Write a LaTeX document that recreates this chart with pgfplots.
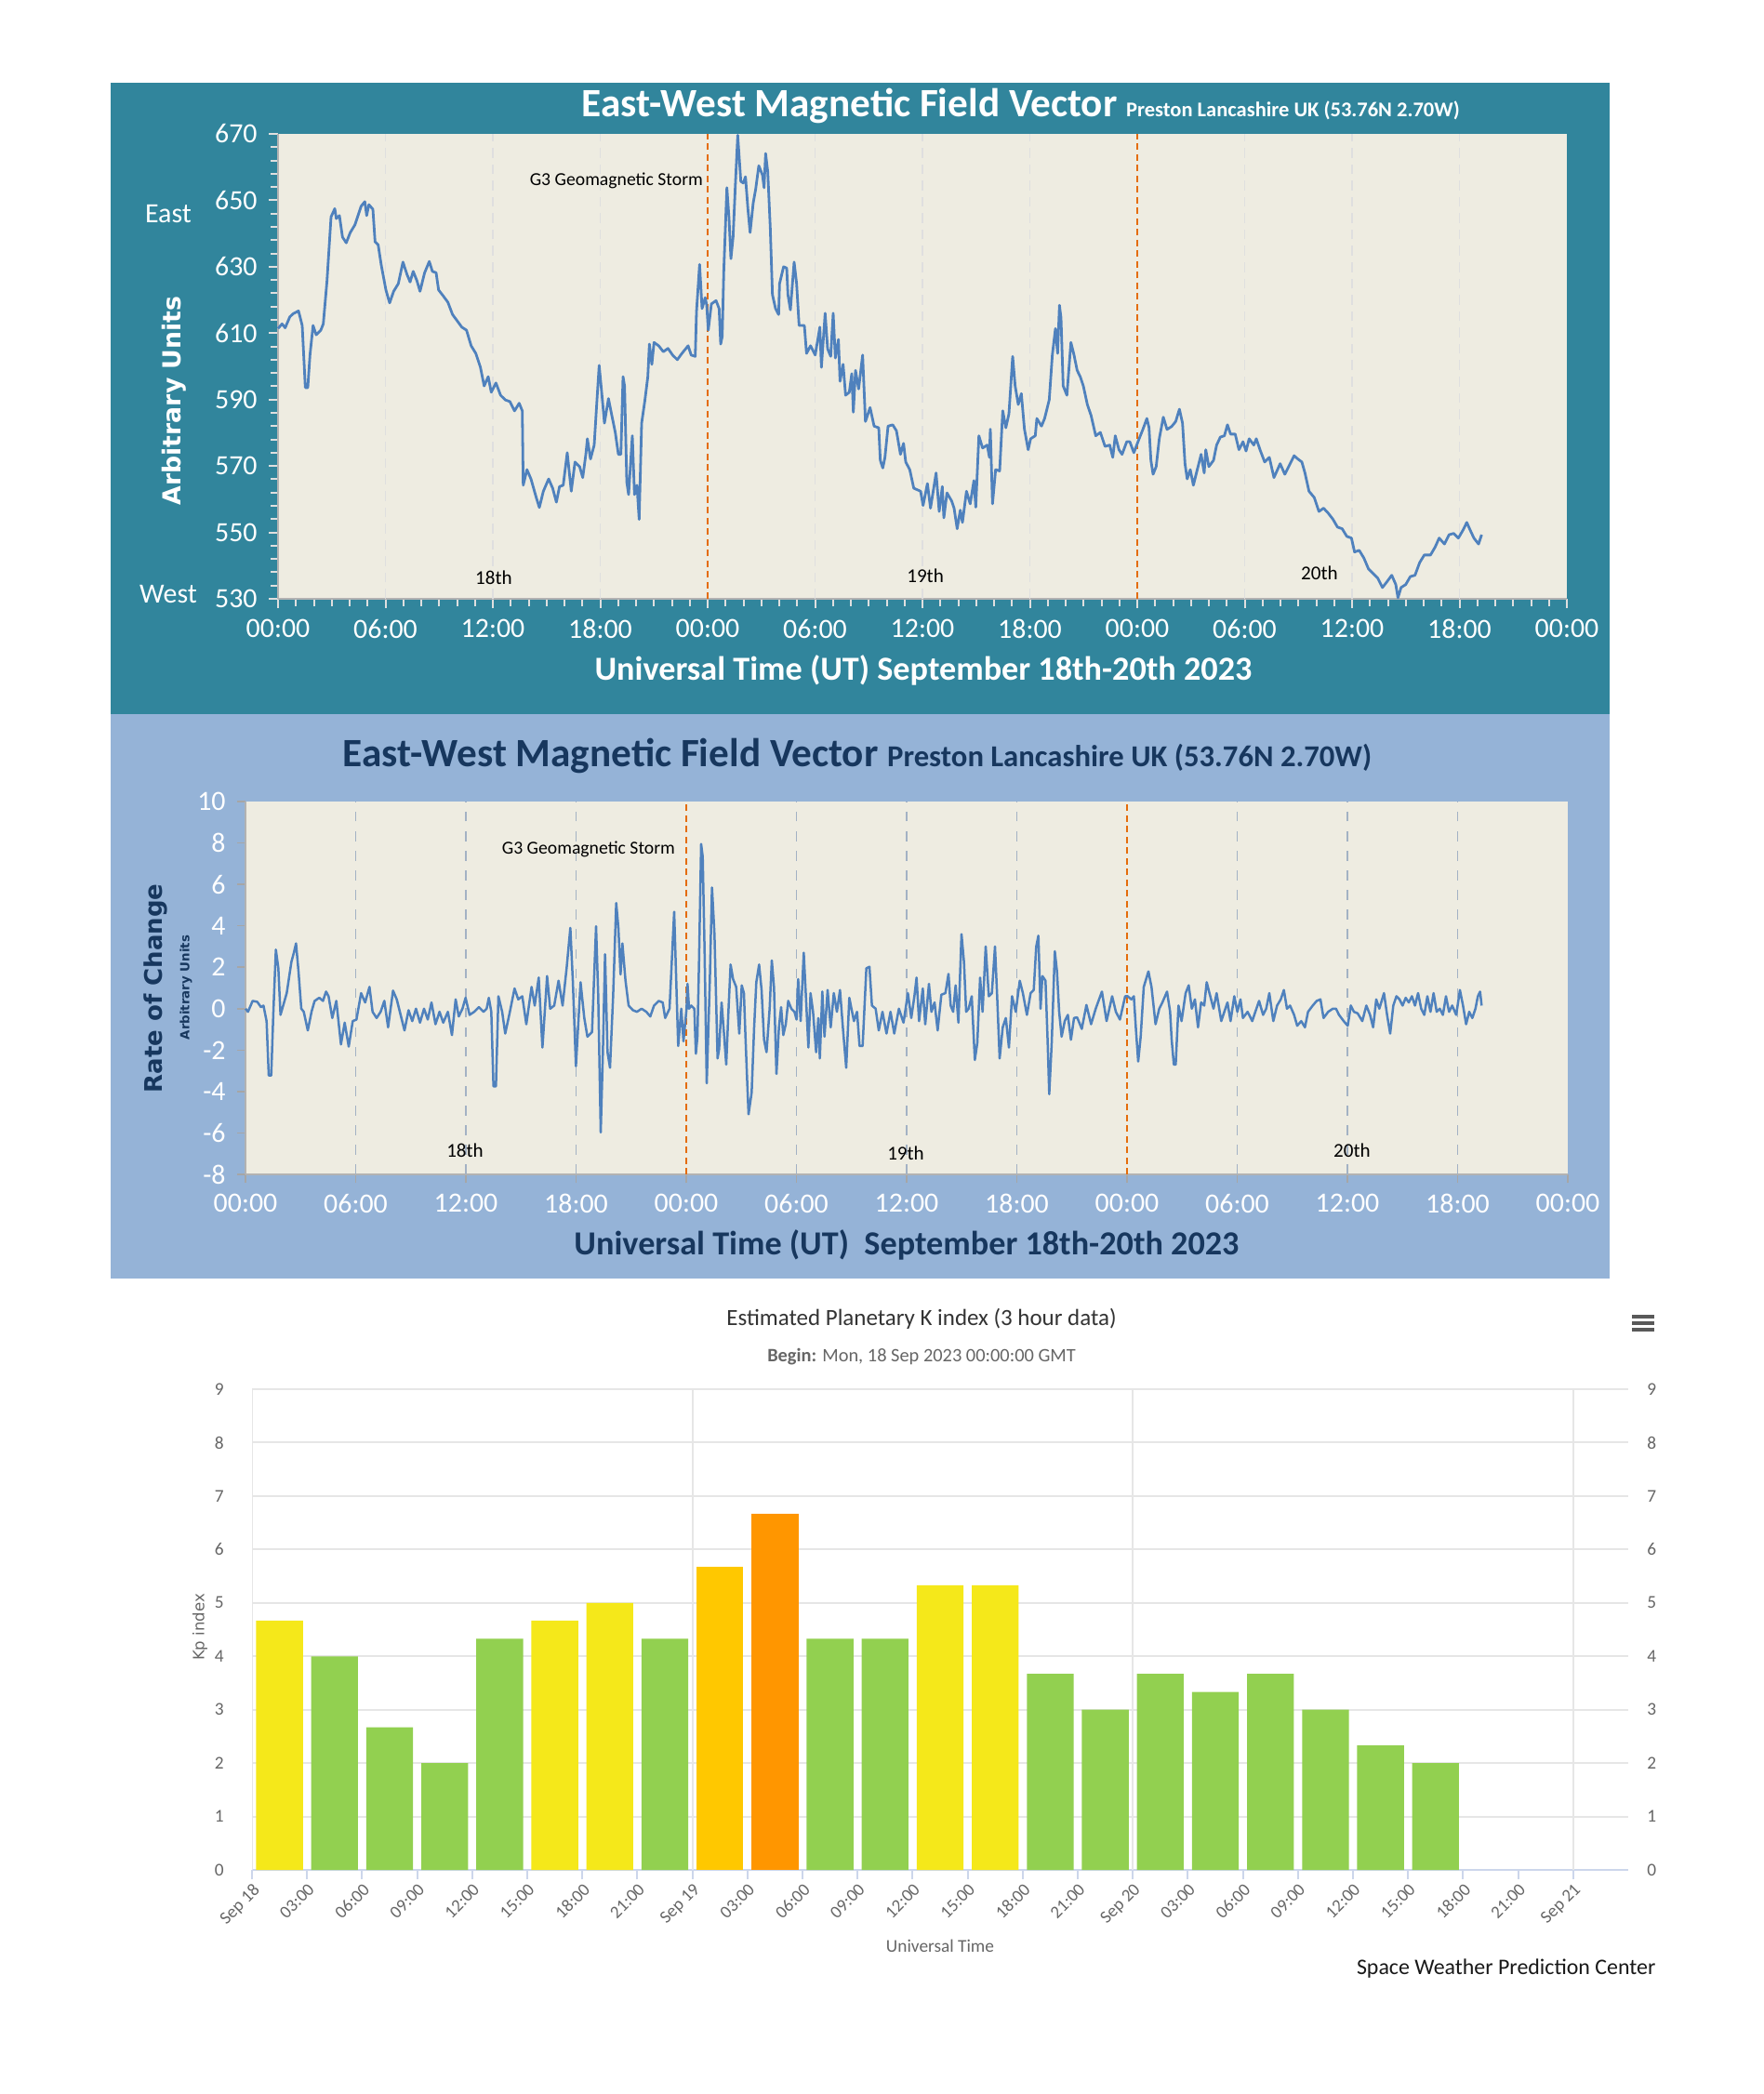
\documentclass[border=0pt]{standalone}
\usepackage{pgfplots}
\pgfplotsset{compat=1.18}
\usepackage{fontspec}
\setmainfont{Carlito}
\newfontfamily\dejavu{DejaVu Sans}
\definecolor{tealbg}{HTML}{31859C}
\definecolor{bluebg}{HTML}{95B3D7}
\definecolor{plotbg}{HTML}{EEECE1}
\definecolor{linec}{HTML}{4F81BD}
\definecolor{navy}{HTML}{17375E}
\definecolor{stormc}{HTML}{E46C0A}
\definecolor{kpyellow}{HTML}{F5E81A}
\definecolor{kpgreen}{HTML}{92D050}
\definecolor{kpamber}{HTML}{FFC800}
\definecolor{kporange}{HTML}{FF9600}
\definecolor{hcgrid}{HTML}{E6E6E6}
\definecolor{hcaxis}{HTML}{CCD6EB}
\definecolor{hctext}{HTML}{666666}
\definecolor{grid2}{HTML}{A3B2C4}
\begin{document}
\begin{tikzpicture}
\fill[white] (0,0) rectangle (189.6mm,-225.2mm);
\fill[tealbg] (11.9mm,-8.9mm) rectangle (173.1mm,-76.8mm);
\fill[bluebg] (11.9mm,-76.8mm) rectangle (173.1mm,-137.5mm);

% ---------------- Panel 1 ----------------
\begin{axis}[
  at={(29.9mm,-64.4mm)}, anchor=south west,
  width=138.6mm, height=50mm, scale only axis,
  xmin=0, xmax=72, ymin=530, ymax=670,
  axis background/.style={fill=plotbg},
  axis x line*=bottom, axis y line*=left,
  axis line style={draw=gray!60, -},
  xtick={0,6,...,72},
  xticklabels={00:00,06:00,12:00,18:00,00:00,06:00,12:00,18:00,00:00,06:00,12:00,18:00,00:00},
  minor xtick={0,1,...,72},
  ytick={530,550,...,670},
  minor ytick={530,534,...,670},
  tick align=outside,
  major tick length=1.0mm, minor tick length=0.8mm,
  every tick/.style={draw=white!75!gray, line width=0.2mm},
  tick label style={white, font=\fontsize{8.5}{10}\selectfont},
  /pgf/number format/assume math mode=true,
  unbounded coords=jump,
  clip=false,
]
\addplot[draw=gray!25, densely dashed, line width=0.15mm] coordinates {(6,530) (6,670) (6,nan) (12,530) (12,670) (12,nan) (18,530) (18,670) (18,nan) (30,530) (30,670) (30,nan) (36,530) (36,670) (36,nan) (42,530) (42,670) (42,nan) (54,530) (54,670) (54,nan) (60,530) (60,670) (60,nan) (66,530) (66,670)};
\addplot[stormc, line width=0.15mm, dash pattern=on 0.7mm off 0.45mm] coordinates {(24,530) (24,670) (24,nan) (48,530) (48,670)};
\addplot[linec, line width=0.28mm, line join=round] table {
h v
0 611.4
0.225 612.8
0.398 611.6
0.658 614.9
0.831 615.8
1.143 616.7
1.351 612.3
1.524 593.6
1.662 593.6
1.784 603.4
1.957 612.3
2.130 609.5
2.390 610.9
2.528 612.8
2.736 625.8
2.961 645.0
3.169 647.5
3.255 644.5
3.429 645.4
3.602 638.9
3.810 637.2
4.035 640.3
4.294 642.6
4.468 645.4
4.641 648.2
4.848 649.6
4.952 645.4
5.074 648.7
5.299 647.3
5.420 637.5
5.593 636.6
5.766 630.5
6.026 623.0
6.234 619.1
6.459 622.6
6.719 624.9
6.978 631.4
7.203 627.7
7.377 625.4
7.550 628.6
7.758 625.8
7.931 622.6
8.190 628.2
8.450 631.6
8.623 628.6
8.831 628.2
8.970 623.0
9.229 621.2
9.489 619.3
9.749 615.6
10.009 613.7
10.268 611.8
10.528 610.9
10.788 606.2
11.048 603.9
11.307 599.7
11.515 594.1
11.740 596.9
11.913 592.2
12.173 595.0
12.433 591.3
12.693 589.9
12.952 589.4
13.212 586.6
13.472 588.9
13.645 586.6
13.697 564.2
13.905 568.9
14.130 566.1
14.424 560.5
14.597 557.5
14.823 562.4
15.117 566.1
15.342 563.3
15.550 559.1
15.723 563.8
15.931 564.2
16.156 574.0
16.381 562.4
16.589 571.2
16.848 569.8
17.022 566.5
17.195 573.5
17.281 578.2
17.455 572.1
17.662 576.3
17.801 588.5
17.939 600.3
18.113 590.3
18.234 582.9
18.459 590.3
18.667 584.7
18.840 580.1
19.013 573.5
19.152 573.5
19.273 596.9
19.359 594.1
19.481 565.2
19.584 561.4
19.792 579.1
19.913 561.4
20.052 564.2
20.173 553.9
20.312 582.9
20.485 589.4
20.658 596.9
20.745 606.7
20.883 600.6
21.004 607.2
21.264 606.2
21.524 604.4
21.784 605.4
22.043 603.4
22.303 602.0
22.563 603.9
22.909 606.2
23.082 603.4
23.307 603.0
23.377 616.5
23.550 630.7
23.688 617.4
23.861 620.7
23.948 618.4
24.035 610.9
24.208 618.8
24.468 619.8
24.641 617.4
24.727 606.7
24.814 609.0
24.900 628.6
25.074 653.8
25.195 644.5
25.299 632.4
25.420 638.9
25.541 653.8
25.680 669.6
25.853 655.7
25.991 655.2
26.113 657.1
26.251 647.3
26.372 640.3
26.545 649.2
26.684 653.4
26.857 660.4
27.065 657.6
27.152 653.8
27.238 664.1
27.359 658.5
27.498 641.7
27.619 621.6
27.792 617.4
27.965 615.6
28.017 624.9
28.242 630.0
28.416 629.6
28.485 621.6
28.623 617.0
28.831 631.4
28.970 624.9
29.108 612.3
29.403 612.3
29.524 603.9
29.749 606.2
30.009 603.4
30.268 611.8
30.355 599.7
30.563 616.0
30.701 605.3
30.874 603.0
31.013 616.0
31.134 602.5
31.307 608.1
31.394 595.5
31.567 600.6
31.706 591.3
31.913 592.2
32.052 597.8
32.139 586.2
32.260 598.8
32.433 593.2
32.658 603.4
32.814 583.4
33.074 587.6
33.299 582.0
33.558 581.5
33.645 571.7
33.784 569.4
33.905 572.6
34.078 582.0
34.338 582.4
34.546 580.6
34.771 573.5
34.944 576.8
35.065 571.2
35.290 568.9
35.515 563.3
35.896 562.4
36.035 558.1
36.277 564.7
36.450 557.3
36.762 567.9
36.935 556.3
37.108 563.8
37.195 554.4
37.368 561.9
37.628 559.5
37.766 557.3
37.939 551.1
38.113 556.7
38.234 553.0
38.459 562.4
38.667 558.6
38.874 565.6
38.978 557.6
39.152 579.1
39.359 575.4
39.619 576.3
39.740 572.6
39.792 581.1
39.913 558.6
40.087 568.9
40.312 568.5
40.485 586.6
40.658 581.5
40.831 585.7
41.039 603.0
41.178 594.1
41.351 588.5
41.524 591.8
41.697 581.1
41.905 574.9
42.043 578.2
42.303 579.1
42.390 584.3
42.649 582.0
42.823 584.3
43.082 589.9
43.255 603.4
43.429 611.4
43.550 603.9
43.654 618.4
43.740 614.6
43.861 594.1
44.069 591.3
44.294 607.2
44.468 603.4
44.641 598.8
44.814 596.9
44.987 594.1
45.212 588.5
45.420 585.2
45.680 579.1
45.939 580.1
46.199 575.9
46.459 576.3
46.632 572.6
46.771 579.1
46.978 574.9
47.152 573.5
47.411 577.3
47.584 577.3
47.810 574.0
48.104 578.2
48.312 581.0
48.537 584.3
48.658 581.5
48.762 571.7
48.883 567.5
49.056 569.8
49.229 578.2
49.455 584.7
49.662 581.0
49.922 581.9
50.147 583.4
50.355 587.1
50.528 582.9
50.667 570.7
50.788 566.1
50.961 568.9
51.134 564.2
51.394 569.8
51.567 573.5
51.740 567.9
51.827 574.9
52.000 569.8
52.260 571.7
52.433 576.3
52.641 578.7
52.866 579.1
53.039 582.4
53.212 579.6
53.472 579.6
53.680 574.9
53.905 577.3
54.078 574.5
54.251 578.2
54.511 576.3
54.649 578.2
54.857 574.9
55.117 571.2
55.377 572.6
55.636 566.5
55.983 570.7
56.242 567.5
56.502 570.3
56.762 573.1
56.970 572.1
57.195 571.2
57.368 567.9
57.593 562.4
57.887 560.5
58.147 556.3
58.407 557.3
58.667 555.8
58.926 554.0
59.186 551.6
59.446 551.1
59.706 548.8
59.965 548.3
60.139 544.1
60.398 544.6
60.658 542.3
60.918 539.0
61.177 537.6
61.437 536.2
61.697 533.4
61.957 535.2
62.216 537.1
62.442 534.3
62.563 530.3
62.736 533.4
62.996 534.3
63.255 536.7
63.515 537.1
63.775 540.9
64.035 543.2
64.381 543.2
64.641 545.6
64.866 548.3
65.160 546.5
65.420 549.3
65.680 549.7
65.939 548.3
66.199 550.7
66.407 553.0
66.597 550.7
66.805 548.3
67.065 546.5
67.238 549.3
};
\node[anchor=east, inner sep=1pt, font=\fontsize{5.6}{6}\selectfont] at (axis cs:23.95,656) {G3 Geomagnetic Storm};
\node[font=\fontsize{6}{7}\selectfont] at (axis cs:12.05,536.4) {18th};
\node[font=\fontsize{6}{7}\selectfont] at (axis cs:36.16,537) {19th};
\node[font=\fontsize{6}{7}\selectfont] at (axis cs:58.18,537.8) {20th};
\end{axis}

\node[anchor=base west, white, inner sep=0] at (62.5mm,-12.6mm) {\fontsize{12.3}{14}\selectfont\bfseries East-West Magnetic Field Vector \fontsize{6.4}{7}\selectfont Preston Lancashire UK (53.76N 2.70W)};
\node[white, font=\fontsize{10.3}{12}\selectfont\bfseries] at (99.3mm,-72.1mm) {Universal Time (UT) September 18th-20th 2023};
\node[white, rotate=90, font=\dejavu\bfseries\fontsize{7.6}{9}\selectfont] at (18.7mm,-43.1mm) {Arbitrary Units};
\node[white, font=\fontsize{8.5}{10}\selectfont] at (18.1mm,-23.0mm) {East};
\node[white, font=\fontsize{8.5}{10}\selectfont] at (18.1mm,-63.9mm) {West};

% ---------------- Panel 2 ----------------
\begin{axis}[
  at={(26.4mm,-126.3mm)}, anchor=south west,
  width=142.2mm, height=40.1mm, scale only axis,
  xmin=0, xmax=72, ymin=-8, ymax=10,
  axis background/.style={fill=plotbg},
  axis x line*=bottom, axis y line*=left,
  axis line style={draw=gray!60, -},
  xtick={0,6,...,72},
  xticklabels={00:00,06:00,12:00,18:00,00:00,06:00,12:00,18:00,00:00,06:00,12:00,18:00,00:00},
  ytick={-8,-6,...,10},
  tick align=outside,
  major tick length=0.9mm,
  every tick/.style={draw=gray!70, line width=0.15mm},
  tick label style={white, font=\fontsize{8.5}{10}\selectfont},
  /pgf/number format/assume math mode=true,
  unbounded coords=jump,
  clip=false,
]
\addplot[draw=grid2, dashed, line width=0.15mm] coordinates {(6,-8) (6,10) (6,nan) (12,-8) (12,10) (12,nan) (18,-8) (18,10) (18,nan) (30,-8) (30,10) (30,nan) (36,-8) (36,10) (36,nan) (42,-8) (42,10) (42,nan) (54,-8) (54,10) (54,nan) (60,-8) (60,10) (60,nan) (66,-8) (66,10)};
\addplot[stormc, line width=0.15mm, dash pattern=on 0.7mm off 0.45mm] coordinates {(24,-8) (24,10) (24,nan) (48,-8) (48,10)};
\addplot[linec, line width=0.25mm, line join=round] table {
h v
0 0
0.135 -0.15
0.388 0.375
0.641 0.33
0.844 0.075
0.979 0.15
1.148 -0.6
1.266 -3.225
1.401 -3.225
1.519 -0.15
1.654 2.85
1.789 1.95
1.907 -0.3
2.076 0.225
2.245 0.75
2.498 2.25
2.633 2.7
2.751 3.15
2.886 1.8
3.038 0
3.173 -0.15
3.392 -1.05
3.595 -0.15
3.764 0.375
4.017 0.525
4.219 0.375
4.388 0.825
4.523 0.6
4.726 -0.45
4.945 0.375
5.198 -1.725
5.401 -0.675
5.620 -1.83
5.840 -0.6
6.042 -0.525
6.295 0.75
6.515 0.3
6.751 1.05
6.920 -0.15
7.139 -0.45
7.359 -0.15
7.561 0.375
7.764 -0.9
8.034 0.87
8.236 0.45
8.405 -0.15
8.658 -1.05
8.878 -0.075
9.080 -0.6
9.283 0
9.502 -0.675
9.722 0
9.924 -0.525
10.127 0.3
10.346 -0.75
10.565 -0.15
10.768 -0.675
11.021 -0.15
11.241 -1.275
11.443 0.45
11.612 -0.375
11.814 0
11.983 0.525
12.203 -0.3
12.456 -0.15
12.709 0.075
12.962 -0.15
13.131 0
13.249 0.525
13.384 -0.15
13.502 -3.75
13.637 -3.75
13.772 0.6
13.975 -0.15
14.143 -1.2
14.397 -0.15
14.650 0.975
14.852 0.45
15.072 0.6
15.291 -0.75
15.578 1.05
15.747 0.15
15.966 1.5
16.169 -1.875
16.422 1.575
16.591 0
16.810 0.15
17.046 1.35
17.266 0.15
17.485 1.95
17.688 3.9
17.823 1.35
17.992 -2.775
18.245 1.275
18.447 -0.45
18.616 -1.35
18.869 -1.125
19.089 3.975
19.207 0.6
19.342 -5.97
19.460 -2.1
19.578 2.625
19.713 -2.1
19.848 -2.85
20.017 0.6
20.186 5.1
20.304 3.9
20.422 1.65
20.523 3.15
20.692 1.35
20.861 0.15
21.097 -0.075
21.316 -0.15
21.570 0
21.823 -0.15
22.042 -0.375
22.245 0.15
22.498 0.375
22.717 0.3
22.852 -0.45
23.089 0
23.342 4.68
23.561 -1.8
23.730 0
23.848 -1.575
24.017 0
24.068 1.2
24.152 0
24.270 0.15
24.439 0
24.523 -2.175
24.608 -1.35
24.692 2.1
24.810 7.95
24.895 7.35
24.996 2.85
25.114 -3.6
25.283 1.35
25.401 5.85
25.536 3.6
25.705 -2.4
25.789 -1.95
25.924 0.3
26.042 -1.05
26.177 -2.7
26.295 -0.15
26.414 2.13
26.549 1.425
26.717 1.05
26.886 -1.2
27.021 1.125
27.139 0.75
27.224 -1.35
27.308 -3.3
27.392 -5.1
27.561 -4.05
27.696 -0.9
27.814 1.275
27.966 2.13
28.101 0.9
28.236 -1.5
28.371 -2.1
28.540 0
28.658 2.325
28.776 1.05
28.911 -3.15
29.046 -0.9
29.165 0.075
29.283 -1.275
29.418 -0.75
29.553 0.375
29.722 0
29.890 -0.15
30.008 -0.525
30.093 1.425
30.228 -0.6
30.397 2.7
30.515 0.6
30.650 -1.875
30.768 0.75
30.903 -0.15
31.072 -2.1
31.190 -0.45
31.274 -2.4
31.409 0.825
31.527 -1.35
31.696 0.9
31.865 -0.9
32.034 0.75
32.203 -0.15
32.371 0.9
32.540 -1.05
32.709 -2.85
32.878 0.525
33.131 -0.6
33.300 -0.15
33.435 -1.8
33.603 -1.8
33.806 1.95
33.975 2.025
34.110 0.15
34.312 0
34.481 -1.05
34.684 -0.15
34.903 -1.2
35.122 -0.15
35.325 -1.2
35.578 0
35.831 -0.675
36.068 0.75
36.253 -0.45
36.422 0.6
36.540 1.5
36.675 -0.6
36.878 0.975
37.013 -0.75
37.215 1.2
37.350 -0.15
37.519 0.3
37.688 -1.05
37.890 0.675
38.110 0.75
38.278 1.68
38.397 0.15
38.532 -0.15
38.667 1.125
38.819 -0.675
38.987 3.6
39.122 2.25
39.241 -0.15
39.376 0
39.544 0.6
39.713 -2.475
39.848 -1.65
40.000 1.5
40.135 -0.15
40.304 3.0
40.473 0.6
40.641 0.75
40.810 3.0
40.928 0.6
41.063 -2.4
41.232 -0.9
41.401 -0.45
41.570 -1.875
41.738 0.6
41.941 -0.15
42.160 1.35
42.329 0.75
42.549 -0.3
42.751 0.75
42.920 0.9
43.055 3.0
43.173 3.525
43.291 0
43.392 1.575
43.561 1.35
43.680 -1.65
43.764 -4.125
43.899 -1.65
44.068 2.775
44.186 1.8
44.304 -0.15
44.439 -1.35
44.608 -0.6
44.776 -0.3
44.945 -1.5
45.114 -0.45
45.283 -0.42
45.536 -0.975
45.789 0.18
46.042 -0.75
46.295 0
46.633 0.825
46.886 -0.6
47.190 0.6
47.392 -0.15
47.612 -0.525
47.899 0.6
48.034 0.6
48.236 0.45
48.371 0.6
48.489 -1.05
48.608 -2.55
48.743 -1.35
48.911 1.05
49.165 1.8
49.333 1.05
49.553 -0.75
49.755 0
49.924 0.3
50.177 0.825
50.346 -0.15
50.430 -1.5
50.549 -2.7
50.650 -2.7
50.802 0.15
50.970 -0.6
51.190 0.75
51.359 1.125
51.527 0
51.696 0.45
51.865 -0.9
52.034 0.3
52.203 0.15
52.338 1.275
52.489 0.75
52.709 0
52.878 0.75
53.131 -0.6
53.300 -0.15
53.468 0.3
53.637 -0.6
53.840 0.6
54.008 -0.15
54.177 0.45
54.312 -0.45
54.565 -0.15
54.819 -0.6
54.987 -0.15
55.190 0.375
55.409 -0.3
55.578 0
55.747 0.75
55.966 -0.6
56.169 0.15
56.371 0.45
56.540 0.9
56.709 0
56.878 0.15
57.097 -0.3
57.266 -0.825
57.485 -0.6
57.688 -0.9
57.857 -0.15
58.110 0.15
58.329 0.375
58.532 0.45
58.700 -0.45
58.954 -0.15
59.207 0
59.376 0
59.544 -0.3
59.797 -0.6
60.017 -0.825
60.186 0.15
60.354 -0.15
60.557 -0.225
60.810 -0.6
61.030 0.15
61.232 -0.3
61.401 -0.9
61.570 0.45
61.738 0
61.992 0.75
62.160 -0.3
62.329 -1.2
62.498 0.15
62.667 0.6
62.835 0.45
63.004 0.15
63.173 0.525
63.342 0.3
63.511 0.6
63.679 0.15
63.848 0.75
64.017 0
64.186 -0.3
64.354 0.6
64.523 -0.15
64.692 0.75
64.861 -0.15
65.030 0
65.198 -0.3
65.367 0.6
65.536 -0.15
65.705 0.15
65.924 -0.3
66.127 0.9
66.295 0.15
66.464 -0.75
66.633 -0.15
66.802 -0.45
66.970 0
67.105 0.6
67.224 0.825
67.308 0.15
};
\node[anchor=east, inner sep=1pt, font=\fontsize{5.6}{6}\selectfont] at (axis cs:23.6,7.7) {G3 Geomagnetic Storm};
\node[font=\fontsize{6}{7}\selectfont] at (axis cs:11.95,-6.84) {18th};
\node[font=\fontsize{6}{7}\selectfont] at (axis cs:35.95,-7.0) {19th};
\node[font=\fontsize{6}{7}\selectfont] at (axis cs:60.25,-6.84) {20th};
\end{axis}

\node[anchor=base west, navy, inner sep=0] at (36.8mm,-82.4mm) {\fontsize{12.3}{14}\selectfont\bfseries East-West Magnetic Field Vector \fontsize{9.3}{11}\selectfont Preston Lancashire UK (53.76N 2.70W)};
\node[navy, font=\fontsize{10.3}{12}\selectfont\bfseries] at (97.5mm,-133.9mm) {Universal Time (UT)\ \ September 18th-20th 2023};
\node[navy, rotate=90, font=\dejavu\bfseries\fontsize{7.4}{9}\selectfont] at (16.7mm,-106.3mm) {Rate of Change};
\node[navy, rotate=90, font=\dejavu\bfseries\fontsize{3.8}{5}\selectfont] at (20.0mm,-106.2mm) {Arbitrary Units};

% ---------------- Panel 3 ----------------
\begin{axis}[
  at={(27.1mm,-201.1mm)}, anchor=south west,
  width=148mm, height=51.7mm, scale only axis,
  xmin=0, xmax=75, ymin=0, ymax=9,
  axis x line*=bottom, axis y line*=left,
  x axis line style={draw=hcaxis, line width=0.2mm, -},
  y axis line style={draw=none},
  xtick={0,3,...,72},
  xticklabels={Sep~18,03:00,06:00,09:00,12:00,15:00,18:00,21:00,Sep~19,03:00,06:00,09:00,12:00,15:00,18:00,21:00,Sep~20,03:00,06:00,09:00,12:00,15:00,18:00,21:00,Sep~21},
  ytick={0,1,...,9},
  tick align=outside,
  xtick style={draw=hcaxis, line width=0.2mm},
  major tick length=1.0mm,
  ytick style={draw=none},
  yticklabel style={hctext, font=\fontsize{5.5}{6}\selectfont, xshift=-0.8mm},
  xticklabel style={hctext, font=\fontsize{5.4}{6}\selectfont, rotate=45, anchor=north east, inner sep=0.5pt},
  /pgf/number format/assume math mode=true,
  ymajorgrids,
  major grid style={draw=hcgrid, line width=0.2mm},
  unbounded coords=jump,
]
\addplot[draw=hcgrid, line width=0.2mm] coordinates {(0,0) (0,9) (0,nan) (24,0) (24,9) (24,nan) (48,0) (48,9) (48,nan) (72,0) (72,9)};
\addplot[ybar, bar width=2.55, bar shift=0pt, fill=kpgreen, draw=none] coordinates {(4.5,4.00) (7.5,2.67) (10.5,2.00) (13.5,4.33) (22.5,4.33) (31.5,4.33) (34.5,4.33) (43.5,3.67) (46.5,3.00) (49.5,3.67) (52.5,3.33) (55.5,3.67) (58.5,3.00) (61.5,2.33) (64.5,2.00)};
\addplot[ybar, bar width=2.55, bar shift=0pt, fill=kpyellow, draw=none] coordinates {(1.5,4.67) (16.5,4.67) (19.5,5.00) (37.5,5.33) (40.5,5.33)};
\addplot[ybar, bar width=2.55, bar shift=0pt, fill=kpamber, draw=none] coordinates {(25.5,5.67)};
\addplot[ybar, bar width=2.55, bar shift=0pt, fill=kporange, draw=none] coordinates {(28.5,6.67)};
\end{axis}
\begin{axis}[
  at={(27.1mm,-201.1mm)}, anchor=south west,
  width=148mm, height=51.7mm, scale only axis,
  xmin=0, xmax=75, ymin=0, ymax=9,
  hide x axis, axis y line*=right,
  y axis line style={draw=none},
  ytick={0,1,...,9}, ytick style={draw=none},
  yticklabel style={hctext, font=\fontsize{5.5}{6}\selectfont, xshift=0.8mm},
  /pgf/number format/assume math mode=true,
]
\end{axis}

\node[font=\fontsize{7.1}{8}\selectfont, text=black!80] at (99.1mm,-141.8mm) {Estimated Planetary K index (3 hour data)};
\node[font=\fontsize{5.8}{7}\selectfont, text=hctext] at (99.1mm,-145.9mm) {\textbf{Begin:} Mon, 18 Sep 2023 00:00:00 GMT};
\node[font=\fontsize{5.5}{6}\selectfont, text=hctext] at (101.1mm,-209.3mm) {Universal Time};
\node[anchor=east, inner sep=0, font=\fontsize{6.8}{8}\selectfont, text=black!90] at (178.1mm,-211.7mm) {Space Weather Prediction Center};
\node[rotate=90, font=\dejavu\fontsize{4.7}{5}\selectfont, text=hctext] at (21.5mm,-175.0mm) {Kp index};
\foreach \yy in {141.6,142.3,143.0} {\draw[line width=0.45mm, draw=black!65] (175.5mm,-\yy mm) -- (177.9mm,-\yy mm);}

\pgfresetboundingbox
\path[use as bounding box] (0,0) rectangle (189.6mm,-225.2mm);
\end{tikzpicture}
\end{document}
